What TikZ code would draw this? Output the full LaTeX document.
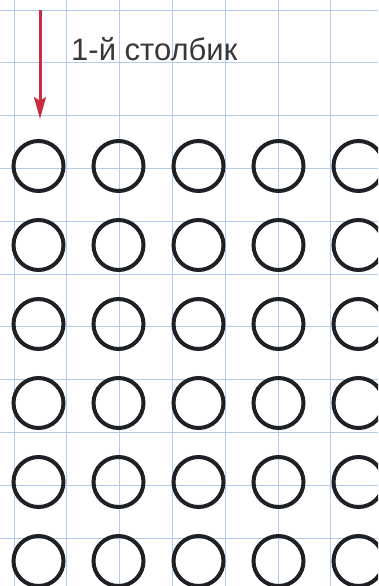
\documentclass[tikz,border=0pt]{standalone}
\usepackage{fontspec}
\setmainfont{Liberation Sans}
\usetikzlibrary{arrows.meta}
\definecolor{gridblue}{RGB}{176,204,234}
\definecolor{arrowred}{RGB}{200,45,65}
\definecolor{ringblack}{RGB}{30,32,38}
\tikzset{
    ring/.style={circle, draw=ringblack, line width=4pt, minimum size=50pt, inner sep=0pt},
    gridline/.style={gridblue, line width=0.9pt}
}
\begin{document}
\begin{tikzpicture}[x=1pt, y=-1pt]
    \useasboundingbox (0,0) rectangle (378,586);
    \clip (0,0) rectangle (378,586);
    \fill[white] (0,0) rectangle (378,586);
    % squared paper
    \foreach \i in {0,...,6}
        \draw[gridline] (14+52.8*\i,0) -- (14+52.8*\i,586);
    \foreach \j in {0,...,10}
        \draw[gridline] (0,10+52.8*\j) -- (378,10+52.8*\j);
    % the label and its arrow
    \coordinate (start) at (40,10);
    \coordinate (stop) at (40,119);
    \draw[arrowred, line width=3pt, -{Stealth[length=22pt, width=12pt, inset=4pt]}] (start) -- (stop);
    \node[anchor=base west, inner sep=0pt, font=\fontsize{31}{33}\selectfont, text=black!78] (label) at (71,60) {1-й столбик};
    % rows of rings
    \foreach \c in {1,...,5}
        \foreach \r in {1,...,6}
            \node[ring] (ring-\r-\c) at (38.5+80*\c-80, 166+79*\r-79) {};
\end{tikzpicture}
\end{document}
